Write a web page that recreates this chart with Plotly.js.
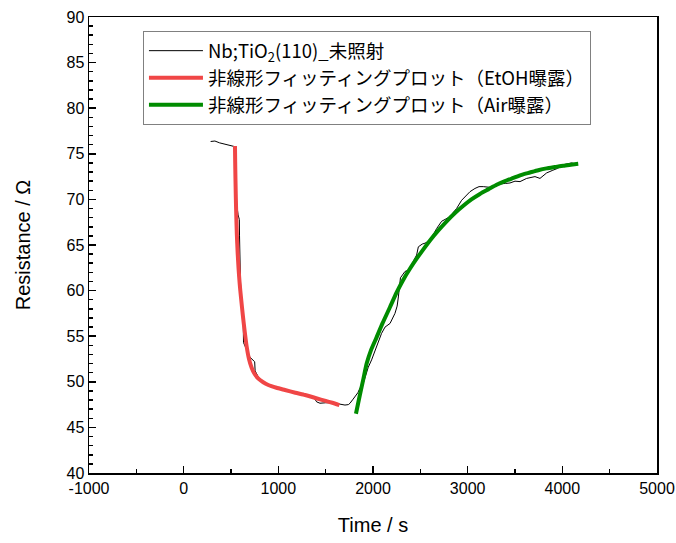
<!DOCTYPE html>
<html>
<head>
<meta charset="utf-8">
<script src="https://cdn.plot.ly/plotly-3.0.1.min.js"></script>
<style>html,body{margin:0;padding:0;background:#fff;}#chart{width:676px;height:543px;}</style>
</head>
<body>
<div id="chart"></div>
<script>
// Measured raw resistance (black)
const rawTime = [285,330,380,418,470,507,535,543,550,560,575,588,590,592,600,608,615,625,630,632,645,670,700,750,755,790,850,900,1000,1100,1200,1300,1380,1405,1440,1500,1546,1600,1650,1704,1740,1757,1790,1810,1840,1862,1898,1920,1950,1985,2039,2090,2127,2180,2232,2255,2268,2280,2290,2338,2391,2430,2461,2479,2520,2549,2602,2640,2672,2725,2770,2813,2850,2883,2936,2980,3025,3077,3120,3165,3210,3253,3300,3341,3400,3447,3500,3553,3623,3711,3764,3799,3834,3900,3950,4010,4050,4098,4133,4160];
const rawRes  = [76.35,76.4,76.2,76.1,76.0,75.9,75.8,75.3,72.5,69.5,68.3,67.8,66.0,63.5,61.0,59.6,58.5,57.0,56.0,54.3,54.0,53.4,52.7,52.2,51.2,50.5,49.9,49.6,49.3,49.0,48.75,48.45,48.2,47.8,47.65,47.7,47.7,47.7,47.55,47.45,47.5,47.65,48.1,48.4,48.8,49.3,49.9,50.6,51.6,52.4,53.85,55.3,56.0,56.4,57.5,58.3,59.3,60.6,61.4,62.1,62.3,63.3,63.9,64.8,65.1,65.2,65.5,66.2,66.8,67.6,67.9,68.1,68.6,69.0,69.9,70.4,70.85,71.2,71.4,71.4,71.35,71.3,71.55,71.7,71.75,71.8,72.0,71.95,72.3,72.5,72.3,72.6,72.9,73.2,73.4,73.8,73.9,74.0,73.9,73.85];

// Non-linear fit, EtOH exposure (red)
const etohTime = [542,544,547,551,556,562,570,580,592,606,625,645,665,690,718,750,789,840,894,980,1070,1180,1282,1400,1500,1570,1645];
const etohRes  = [75.85,74.2,72.3,70.2,68.1,66.1,64.2,62.4,60.7,59.2,57.3,55.5,53.9,52.5,51.55,50.85,50.35,49.95,49.65,49.35,49.1,48.8,48.55,48.2,47.9,47.7,47.45];

// Non-linear fit, Air exposure (green)
const airTime = [1820,1860,1898,1933,1980,2039,2100,2180,2250,2320,2390,2461,2530,2602,2690,2778,2866,2954,3040,3130,3218,3306,3394,3482,3570,3658,3746,3834,3922,4010,4090,4168];
const airRes  = [46.5,48.5,50.3,52.0,53.5,54.9,56.4,58.2,59.8,61.2,62.4,63.5,64.5,65.5,66.6,67.6,68.5,69.3,70.0,70.6,71.1,71.6,72.0,72.35,72.7,72.95,73.2,73.4,73.55,73.7,73.8,73.9];

// Tick labels
const xTickVals = [-1000, 0, 1000, 2000, 3000, 4000, 5000];
const xTickText = ['-1000', '0', '1000', '2000', '3000', '4000', '5000'];

const names = ['Nb;TiO<sub>2</sub>(110)_未照射', '非線形フィッティングプロット（EtOH曝露）', '非線形フィッティングプロット（Air曝露）'];

const traces = [
  {x: rawTime, y: rawRes, mode: 'lines', name: names[0], line: {color: '#000000', width: 1}},
  {x: etohTime, y: etohRes, mode: 'lines', name: names[1], line: {color: '#f04646', width: 4, shape: 'spline', smoothing: 0.5}},
  {x: airTime, y: airRes, mode: 'lines', name: names[2], line: {color: '#008c00', width: 4, shape: 'spline', smoothing: 0.6}}
];

const axisCommon = {
  showline: true, linecolor: '#000', linewidth: 1.5, mirror: true,
  ticks: 'inside', ticklen: 7, tickwidth: 1.5, tickcolor: '#000',
  showgrid: false, zeroline: false,
  tickfont: {family: 'Liberation Sans, Arial, sans-serif', size: 16, color: '#000'}
};

const layout = {
  width: 676, height: 543,
  margin: {l: 89, r: 19, t: 17, b: 70},
  paper_bgcolor: '#fff', plot_bgcolor: '#fff',
  showlegend: true,
  xaxis: Object.assign({}, axisCommon, {
    range: [-1000, 5000], tickmode: 'array', tickvals: xTickVals, ticktext: xTickText,
    minor: {dtick: 500, tick0: 0, ticks: 'inside', ticklen: 4, tickwidth: 1.5, tickcolor: '#000'},
    title: {text: 'Time / s', font: {family: 'Liberation Sans, Arial, sans-serif', size: 20, color: '#000'}, standoff: 22}
  }),
  yaxis: Object.assign({}, axisCommon, {
    range: [40, 90], dtick: 5, tick0: 40,
    minor: {dtick: 1, ticks: 'inside', ticklen: 4, tickwidth: 1.5, tickcolor: '#000'},
    title: {text: 'Resistance / Ω', font: {family: 'Liberation Sans, Arial, sans-serif', size: 20, color: '#000'}, standoff: 30}
  }),
  legend: {
    x: 0.095, y: 0.969, xanchor: 'left', yanchor: 'top',
    bgcolor: '#fff', bordercolor: '#808080', borderwidth: 1,
    font: {family: 'Noto Sans CJK JP, sans-serif', size: 18.5, color: '#000'},
    tracegroupgap: 0, itemwidth: 54
  }
};

Plotly.newPlot('chart', traces, layout, {displayModeBar: false, staticPlot: true});
</script>
</body>
</html>
